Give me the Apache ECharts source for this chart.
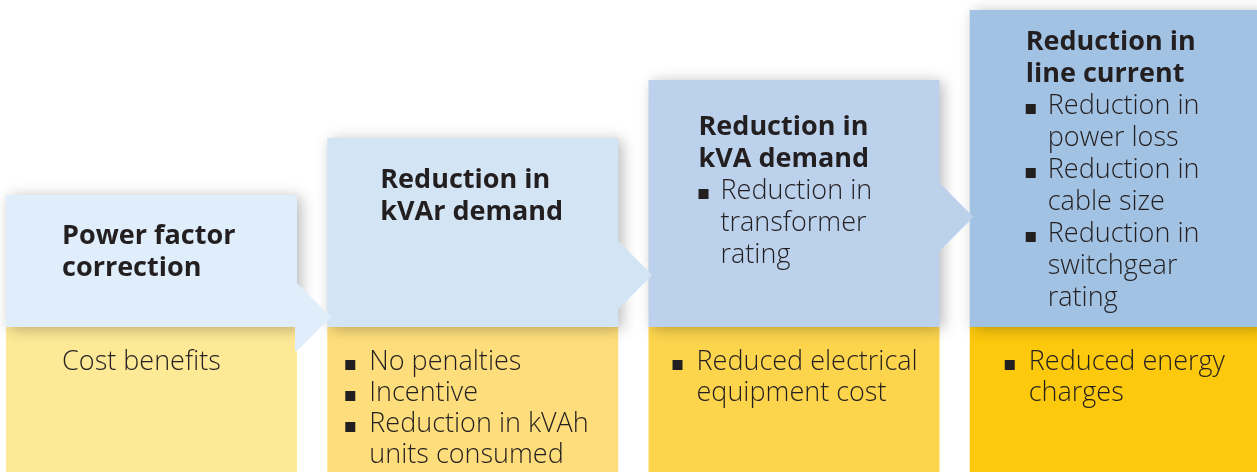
<!DOCTYPE html>
<html>
<head>
<meta charset="utf-8">
<script src="https://cdn.jsdelivr.net/npm/echarts@6/dist/echarts.min.js"></script>
<style>
html,body{margin:0;padding:0;background:#fff;}
#chart{width:1257px;height:472px;}
</style>
</head>
<body>
<div id="chart"></div>
<script>
// ---- data ----
const categories = ['Power factor correction', 'Reduction in kVAr demand', 'Reduction in kVA demand', 'Reduction in line current'];
const stepHeights = [132, 189, 247, 317];      // blue block heights
const benefitHeights = [145, 145, 145, 145];   // yellow block heights
const arrowLevels = [155, 197, 255, null];     // arrow centre level
const titleLines = [
  ['Power factor', 'correction'],
  ['Reduction in', 'kVAr demand'],
  ['Reduction in', 'kVA demand'],
  ['Reduction in', 'line current']
];
const stepBullets = [
  [],
  [],
  [['Reduction in', 'transformer', 'rating']],
  [['Reduction in', 'power loss'], ['Reduction in', 'cable size'], ['Reduction in', 'switchgear', 'rating']]
];
const benefitItems = [
  [['Cost benefits']],
  [['No penalties'], ['Incentive'], ['Reduction in kVAh', 'units consumed']],
  [['Reduced electrical', 'equipment cost']],
  [['Reduced energy', 'charges']]
];
const benefitBulleted = [false, true, true, true];

// ---- styles / layout ----
const blueColors = ['#DFEEFA', '#D3E4F4', '#BBD1EC', '#A2C2E4'];
const yellowColors = ['#FEE996', '#FEDE7C', '#FDD54D', '#FDC90C'];
const textColor = '#231F20';
const FONT = '"Open Sans", "Noto Sans", sans-serif';
const layout = {
  xMin: -0.4717,
  xMax: 3.4413,
  widthRatio: 0.9058,
  titleX: [56, 53, 50, 56],
  titleBase: [51, 52, 57, 42],
  topStep: 32,
  benefitX: [56, 18, 24, 35],
  benefitBase: 45,
  bottomStep: 31,
  bulletGap: 22,
  bulletSize: 10,
  arrowDepth: 34,
  fontSize: 27,
  midShift: 9.5
};

const seriesData = categories.map((c, i) => [i, stepHeights[i], benefitHeights[i], arrowLevels[i] == null ? -1 : arrowLevels[i]]);

function textEl(str, x, baseline, bold) {
  return {
    type: 'text', z2: 10,
    style: {
      text: str, x: x, y: baseline - layout.midShift,
      fill: textColor,
      fontFamily: FONT, fontSize: layout.fontSize, fontWeight: bold ? 'bold' : 300,
      align: 'left', verticalAlign: 'middle'
    }
  };
}
function bulletEl(x, baseline) {
  const s = layout.bulletSize;
  return { type: 'rect', z2: 10, shape: { x: x, y: baseline - 2 - s, width: s, height: s }, style: { fill: textColor } };
}

function renderItem(params, api) {
  const i = params.dataIndex;
  const idx = api.value(0);
  const blueH = api.value(1);
  const yellowH = api.value(2);
  const arrowLv = api.value(3);
  const base = api.coord([idx, 0]);
  const mid = api.coord([idx, yellowH]);
  const top = api.coord([idx, yellowH + blueH]);
  const band = api.size([1, 0])[0];
  const w = band * layout.widthRatio;
  const x0 = base[0] - w / 2;
  const children = [];
  children.push({ type: 'rect', z2: 0, shape: { x: x0, y: mid[1], width: w, height: base[1] - mid[1] }, style: { fill: yellowColors[i] } });
  children.push({ type: 'rect', z2: 2, shape: { x: x0, y: top[1], width: w, height: mid[1] - top[1] },
    style: { fill: blueColors[i], shadowBlur: 14, shadowColor: 'rgba(0,0,0,0.28)', shadowOffsetX: 4, shadowOffsetY: 2 } });
  if (arrowLv >= 0) {
    const ay = api.coord([idx, arrowLv])[1];
    const xr = x0 + w;
    const d = layout.arrowDepth;
    children.push({ type: 'polygon', z2: 4, shape: { points: [[xr - 2, ay - d], [xr, ay - d], [xr + d, ay], [xr, ay + d], [xr - 2, ay + d]] }, style: { fill: blueColors[i] } });
  }
  let bl = top[1] + layout.titleBase[i];
  const tx = x0 + layout.titleX[i];
  titleLines[i].forEach(line => { children.push(textEl(line, tx, bl, true)); bl += layout.topStep; });
  stepBullets[i].forEach(item => {
    children.push(bulletEl(tx, bl));
    item.forEach(line => { children.push(textEl(line, tx + layout.bulletGap, bl, false)); bl += layout.topStep; });
  });
  let bb = mid[1] + layout.benefitBase;
  const bx = x0 + layout.benefitX[i];
  benefitItems[i].forEach(item => {
    if (benefitBulleted[i]) children.push(bulletEl(bx, bb));
    const lx = benefitBulleted[i] ? bx + layout.bulletGap + 2 : bx;
    item.forEach(line => { children.push(textEl(line, lx, bb, false)); bb += layout.bottomStep; });
  });
  return { type: 'group', children: children };
}

const chart = echarts.init(document.getElementById('chart'), null, { renderer: 'canvas' });
chart.setOption({
  animation: false,
  backgroundColor: '#ffffff',
  grid: { left: 0, right: 0, top: 0, bottom: 0 },
  xAxis: { type: 'value', min: layout.xMin, max: layout.xMax, show: false },
  yAxis: { type: 'value', min: 0, max: 472, show: false },
  series: [{
    type: 'custom',
    renderItem: renderItem,
    data: seriesData,
    clip: false
  }]
});
</script>
</body>
</html>
